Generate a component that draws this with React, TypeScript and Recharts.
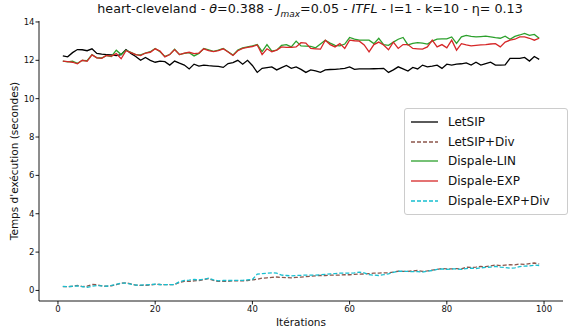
import { LineChart, Line, XAxis, YAxis, Legend } from "recharts";

const ITER = Array.from({ length: 99 }, (_, i) => i + 1);

const LETSIP = [
  12.23, 12.18, 12.4, 12.56, 12.55, 12.5, 12.6, 12.36, 12.32, 12.3,
  12.28, 12.25, 12.3, 12.56, 12.36, 12.2, 12.0, 12.15, 12.0, 11.9,
  11.96, 11.93, 11.75, 11.96, 11.85, 11.75, 11.55, 11.8, 11.7, 11.75,
  11.72, 11.7, 11.68, 11.63, 11.83, 11.88, 12.0, 11.8, 12.0, 11.73,
  11.37, 11.58, 11.62, 11.66, 11.5, 11.62, 11.73, 11.58, 11.66, 11.53,
  11.37, 11.5, 11.45, 11.37, 11.5, 11.52, 11.53, 11.55, 11.58, 11.66,
  11.53, 11.55, 11.55, 11.55, 11.56, 11.57, 11.58, 11.37, 11.5, 11.66,
  11.55, 11.44, 11.63, 11.55, 11.75, 11.66, 11.7, 11.75, 11.58, 11.8,
  11.75, 11.8, 11.82, 11.87, 11.75, 11.9, 11.75, 11.83, 11.9, 11.75,
  11.75, 11.76, 12.1, 12.1, 12.1, 12.15, 11.96, 12.2, 12.05,
];

const LETSIP_DIV = [
  0.2, 0.2, 0.22, 0.26, 0.2, 0.22, 0.31, 0.3, 0.24, 0.22,
  0.24, 0.3, 0.38, 0.4, 0.34, 0.28, 0.26, 0.27, 0.28, 0.32,
  0.31, 0.3, 0.3, 0.31, 0.42, 0.47, 0.47, 0.5, 0.52, 0.56,
  0.62, 0.52, 0.47, 0.48, 0.48, 0.5, 0.5, 0.5, 0.52, 0.55,
  0.58, 0.64, 0.66, 0.68, 0.7, 0.68, 0.67, 0.66, 0.68, 0.7,
  0.72, 0.74, 0.76, 0.78, 0.78, 0.8, 0.8, 0.8, 0.82, 0.82,
  0.84, 0.85, 0.86, 0.88, 0.9, 0.9, 0.92, 0.92, 0.96, 1.0,
  0.99, 1.0, 1.02, 1.04, 1.0, 1.02, 1.06, 1.1, 1.14, 1.12,
  1.12, 1.14, 1.12, 1.21, 1.2, 1.22, 1.25, 1.24, 1.28, 1.33,
  1.3, 1.32, 1.34, 1.33, 1.38, 1.36, 1.4, 1.43, 1.38,
];

const DISPALE_LIN = [
  11.96, 11.92, 11.95, 11.84, 12.0, 11.98, 12.3, 12.13, 12.12, 12.25,
  12.2, 12.53, 12.3, 12.53, 12.42, 12.3, 12.28, 12.38, 12.45, 12.62,
  12.45, 12.2, 12.3, 12.58, 12.3, 12.36, 12.4, 12.23, 12.36, 12.62,
  12.55, 12.47, 12.53, 12.62, 12.45, 12.27, 12.53, 12.65, 12.7, 12.75,
  12.82, 12.45, 12.82, 12.48, 12.53, 12.78, 12.82, 12.7, 13.0, 12.75,
  12.74, 12.73, 12.65, 12.85, 13.05, 12.9, 12.78, 12.75, 12.85, 13.19,
  13.1, 13.05, 13.05, 13.05, 12.87, 13.15, 12.82, 12.78, 12.95, 13.1,
  13.19, 12.8, 12.88, 12.92, 12.9, 12.85, 13.0, 13.1, 13.12, 13.12,
  13.22, 12.88, 13.22, 13.3, 13.25, 13.22, 13.24, 13.26, 13.22, 13.18,
  13.15, 13.26, 13.1, 13.25, 13.32, 13.4, 13.3, 13.35, 13.15,
];

const DISPALE_EXP = [
  11.96, 11.93, 11.9, 11.82, 12.0, 11.95, 12.28, 12.13, 12.1, 12.25,
  12.22, 12.35, 12.08, 12.5, 12.4, 12.3, 12.25, 12.38, 12.42, 12.6,
  12.48, 12.18, 12.3, 12.56, 12.3, 12.38, 12.42, 12.35, 12.38, 12.6,
  12.5, 12.45, 12.5, 12.6, 12.43, 12.25, 12.5, 12.62, 12.68, 12.72,
  12.8, 12.3, 12.6, 12.45, 12.53, 12.7, 12.67, 12.68, 12.7, 12.92,
  12.9, 12.62, 12.6, 12.58, 13.05, 12.82, 12.7, 12.87, 12.62, 13.05,
  13.02, 13.0, 12.8, 12.44, 12.82, 12.95, 12.8, 12.55, 12.95, 12.62,
  12.82, 12.82, 12.62, 12.6, 12.58, 12.7, 13.05, 12.7, 12.82, 12.65,
  13.05, 12.53, 12.87, 12.8, 12.75, 12.78, 12.8, 12.82, 12.85, 12.87,
  12.7, 12.95, 13.05, 13.1, 13.22, 13.22, 13.15, 13.05, 13.15,
];

const DISPALE_EXP_DIV = [
  0.21, 0.2, 0.22, 0.24, 0.2, 0.16, 0.22, 0.26, 0.24, 0.22,
  0.26, 0.32, 0.38, 0.38, 0.33, 0.28, 0.28, 0.29, 0.3, 0.33,
  0.31, 0.3, 0.3, 0.31, 0.46, 0.52, 0.54, 0.57, 0.55, 0.58,
  0.64, 0.55, 0.5, 0.52, 0.52, 0.52, 0.53, 0.53, 0.55, 0.57,
  0.85, 0.88, 0.9, 0.92, 0.9, 0.8, 0.78, 0.76, 0.78, 0.79,
  0.8, 0.8, 0.8, 0.82, 0.84, 0.86, 0.88, 0.9, 0.9, 0.9,
  0.92, 0.95, 0.92, 0.82, 0.8, 0.78, 0.82, 0.87, 0.94, 1.0,
  1.0, 0.99, 0.98, 0.98, 0.96, 1.0, 1.04, 1.1, 1.12, 1.1,
  1.12, 1.12, 1.1, 1.14, 1.16, 1.14, 1.18, 1.2, 1.22, 1.25,
  1.22, 1.2, 1.16, 1.18, 1.24, 1.27, 1.28, 1.32, 1.3,
];

const X_TICKS = [0, 20, 40, 60, 80, 100];
const Y_TICKS = [0, 2, 4, 6, 8, 10, 12, 14];

const SERIES = [
  { key: "letsip", name: "LetSIP", color: "#000000", dash: undefined },
  { key: "letsipDiv", name: "LetSIP+Div", color: "#8c564b", dash: "4 2" },
  { key: "lin", name: "Dispale-LIN", color: "#2ca02c", dash: undefined },
  { key: "exp", name: "Dispale-EXP", color: "#d62728", dash: undefined },
  { key: "expDiv", name: "Dispale-EXP+Div", color: "#17becf", dash: "4 2" },
];

const data = ITER.map((it, i) => ({
  it,
  letsip: LETSIP[i],
  letsipDiv: LETSIP_DIV[i],
  lin: DISPALE_LIN[i],
  exp: DISPALE_EXP[i],
  expDiv: DISPALE_EXP_DIV[i],
}));

const FONT = "DejaVu Sans, sans-serif";
const TICK = { fontSize: 8.5, fill: "#111", fontFamily: FONT };

function LegendBox() {
  return (
    <div style={{ border: "1px solid #ccc", borderRadius: 3, background: "rgba(255,255,255,0.85)", padding: "3px 6px 4px 6px", width: 150 }}>
      {SERIES.map((s) => (
        <div key={s.key} style={{ display: "flex", alignItems: "center", height: 19.7 }}>
          <svg width={27} height={8} style={{ marginRight: 10 }}>
            <line x1={0} y1={4} x2={27} y2={4} stroke={s.color} strokeWidth={1.3} strokeDasharray={s.dash} />
          </svg>
          <span style={{ fontFamily: FONT, fontSize: 12, color: "#111" }}>{s.name}</span>
        </div>
      ))}
    </div>
  );
}

export default function App() {
  return (
    <div style={{ position: "absolute", left: 0, top: 0, width: 570, height: 333, background: "#fff" }}>
      <div style={{ position: "absolute", left: 0, top: 1, width: 570, textAlign: "center", paddingLeft: 50, boxSizing: "border-box", fontFamily: FONT, fontSize: 12.7, color: "#111", whiteSpace: "nowrap" }}>
        heart-cleveland - <i>θ</i>=0.388 - <i>J</i><sub style={{ fontSize: 9, fontStyle: "italic" }}>max</sub>=0.05 - <i>ITFL</i> - l=1 - k=10 - η= 0.13
      </div>
      <LineChart width={570} height={333} data={data} margin={{ top: 21, right: 7, bottom: 0, left: 0 }}>
        <XAxis
          xAxisId="b" dataKey="it" type="number" domain={[-3.9, 103.9]} ticks={X_TICKS} allowDataOverflow
          height={32} tick={TICK} tickSize={3.5} tickMargin={1} stroke="#000" strokeWidth={0.9}
          label={{ value: "Itérations", position: "insideBottom", offset: 7, style: { fontSize: 10.5, fill: "#111", fontFamily: FONT } }}
        />
        <XAxis xAxisId="t" orientation="top" dataKey="it" type="number" domain={[-3.9, 103.9]} height={0} tick={false} tickLine={false} stroke="#000" strokeWidth={0.9} />
        <YAxis
          yAxisId="l" type="number" domain={[-0.55, 14.05]} ticks={Y_TICKS} allowDataOverflow width={39}
          tick={TICK} tickSize={3.5} tickMargin={1} stroke="#000" strokeWidth={0.9}
          label={{
            content: () => (
              <text x={14} y={161} transform="rotate(-90 14 161)" textAnchor="middle" dominantBaseline="central" style={{ fontSize: 10.5, fill: "#111", fontFamily: FONT }}>
                Temps d'exécution (secondes)
              </text>
            ),
          }}
        />
        <YAxis yAxisId="r" orientation="right" type="number" domain={[-0.55, 14.05]} width={0} tick={false} tickLine={false} stroke="#000" strokeWidth={0.9} />
        <Legend
          verticalAlign="middle" align="center" layout="horizontal"
          wrapperStyle={{ position: "absolute", left: 404, top: 108, width: "auto", height: "auto" }}
          content={() => <LegendBox />}
        />
        {SERIES.map((s) => (
          <Line
            key={s.key} xAxisId="b" yAxisId="l" type="linear" dataKey={s.key} name={s.name}
            stroke={s.color} strokeWidth={1.3} strokeDasharray={s.dash} dot={false} isAnimationActive={false}
          />
        ))}
      </LineChart>
    </div>
  );
}
